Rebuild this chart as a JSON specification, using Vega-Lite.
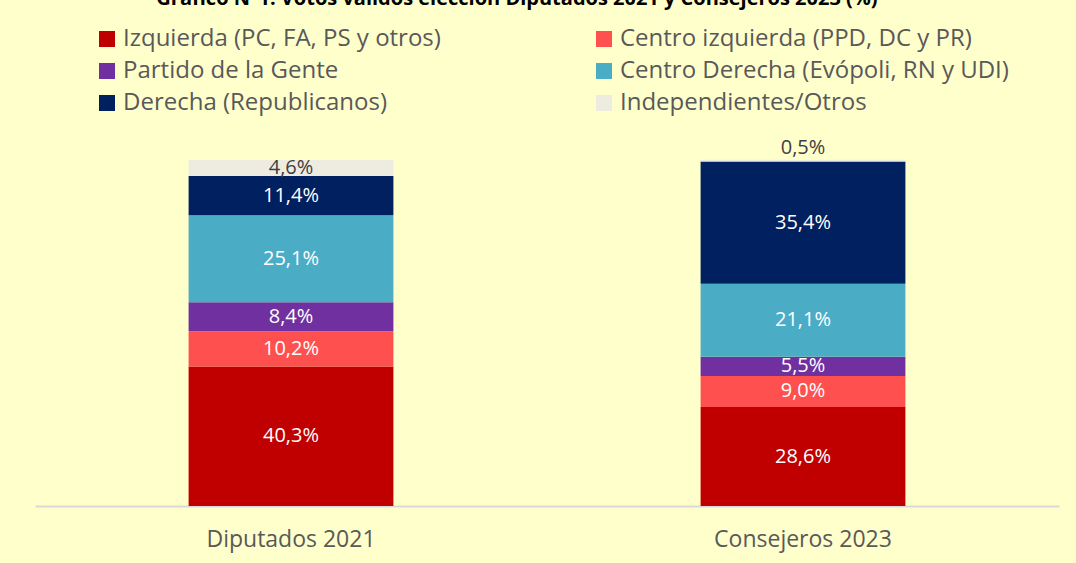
{
  "$schema": "https://vega.github.io/schema/vega-lite/v6.json",
  "width": 1024,
  "height": 346,
  "autosize": {"type": "none"},
  "padding": {"left": 35, "top": 160, "right": 17, "bottom": 57},
  "background": "#FFFFCC",
  "title": {
    "text": "Gráfico N°1: Votos válidos elección Diputados 2021 y Consejeros 2023 (%)",
    "font": "Open Sans",
    "fontSize": 20,
    "fontWeight": "bold",
    "color": "#000000",
    "anchor": "middle",
    "dx": -30,
    "dy": -8,
    "offset": 10
  },
  "data": {
    "values": [
      {"eleccion": "Diputados 2021", "partido": "Izquierda (PC, FA, PS y otros)", "orden": 1, "valor": 40.3},
      {"eleccion": "Diputados 2021", "partido": "Centro izquierda (PPD, DC y PR)", "orden": 2, "valor": 10.2},
      {"eleccion": "Diputados 2021", "partido": "Partido de la Gente", "orden": 3, "valor": 8.4},
      {"eleccion": "Diputados 2021", "partido": "Centro Derecha (Evópoli, RN y UDI)", "orden": 4, "valor": 25.1},
      {"eleccion": "Diputados 2021", "partido": "Derecha (Republicanos)", "orden": 5, "valor": 11.4},
      {"eleccion": "Diputados 2021", "partido": "Independientes/Otros", "orden": 6, "valor": 4.6},
      {"eleccion": "Consejeros 2023", "partido": "Izquierda (PC, FA, PS y otros)", "orden": 1, "valor": 28.6},
      {"eleccion": "Consejeros 2023", "partido": "Centro izquierda (PPD, DC y PR)", "orden": 2, "valor": 9.0},
      {"eleccion": "Consejeros 2023", "partido": "Partido de la Gente", "orden": 3, "valor": 5.5},
      {"eleccion": "Consejeros 2023", "partido": "Centro Derecha (Evópoli, RN y UDI)", "orden": 4, "valor": 21.1},
      {"eleccion": "Consejeros 2023", "partido": "Derecha (Republicanos)", "orden": 5, "valor": 35.4},
      {"eleccion": "Consejeros 2023", "partido": "Independientes/Otros", "orden": 6, "valor": 0.5}
    ]
  },
  "transform": [
    {"stack": "valor", "groupby": ["eleccion"], "sort": [{"field": "orden", "order": "ascending"}], "as": ["v0", "v1"]},
    {"calculate": "datum.valor < 2 ? datum.v1 + 3.5 : (datum.v0 + datum.v1) / 2", "as": "mid"},
    {"calculate": "replace(format(datum.valor, '.1f'), '.', ',') + '%'", "as": "etiqueta"}
  ],
  "encoding": {
    "x": {
      "field": "eleccion",
      "type": "nominal",
      "sort": ["Diputados 2021", "Consejeros 2023"],
      "scale": {"paddingInner": 0.6, "paddingOuter": 0.3},
      "axis": {
        "title": null,
        "labelAngle": 0,
        "labelFont": "Open Sans",
        "labelFontSize": 23,
        "labelColor": "#595959",
        "labelPadding": 22,
        "ticks": false,
        "domainColor": "#D9D9D9",
        "domainWidth": 2,
        "grid": false
      }
    }
  },
  "layer": [
    {
      "mark": {"type": "bar"},
      "encoding": {
        "y": {"field": "v1", "type": "quantitative", "scale": {"domain": [0, 100], "nice": false, "zero": true}, "axis": null},
        "y2": {"field": "v0"},
        "color": {
          "field": "partido",
          "type": "nominal",
          "scale": {
            "domain": ["Izquierda (PC, FA, PS y otros)", "Centro izquierda (PPD, DC y PR)", "Partido de la Gente", "Centro Derecha (Evópoli, RN y UDI)", "Derecha (Republicanos)", "Independientes/Otros"],
            "range": ["#C00000", "#FF5050", "#7030A0", "#4BACC6", "#002060", "#EEECE1"]
          },
          "legend": {
            "title": null,
            "orient": "none",
            "legendX": 60,
            "legendY": -133,
            "direction": "horizontal",
            "columns": 2,
            "columnPadding": 151,
            "rowPadding": 8,
            "padding": 0,
            "symbolType": "square",
            "symbolSize": 256,
            "symbolStrokeWidth": 0,
            "labelFont": "Open Sans",
            "labelFontSize": 24,
            "labelColor": "#595959",
            "labelOffset": 4,
            "labelLimit": 600
          }
        }
      }
    },
    {
      "mark": {"type": "text", "font": "Open Sans", "fontSize": 20, "baseline": "middle", "align": "center"},
      "encoding": {
        "y": {"field": "mid", "type": "quantitative"},
        "text": {"field": "etiqueta"},
        "color": {
          "condition": {"test": "datum.partido === 'Independientes/Otros'", "value": "#404040"},
          "value": "#FFFFFF"
        }
      }
    }
  ],
  "config": {
    "view": {"stroke": null}
  }
}
